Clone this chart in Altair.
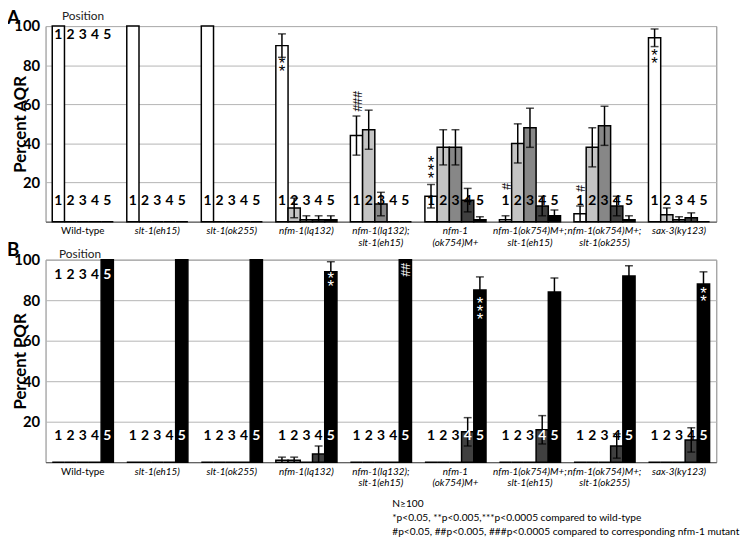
import altair as alt
import pandas as pd

FONT = "Lato"

groups = ["Wild-type", "slt-1(eh15)", "slt-1(ok255)", "nfm-1(lq132)",
          "nfm-1(lq132);|slt-1(eh15)", "nfm-1|(ok754)M+",
          "nfm-1(ok754)M+;|slt-1(eh15)", "nfm-1(ok754)M+;|slt-1(ok255)",
          "sax-3(ky123)"]
positions = [1, 2, 3, 4, 5]
pos_colors = ["#ffffff", "#c4c4c4", "#878787", "#404040", "#000000"]

aqr_mean = [[100, 0, 0, 0, 0], [100, 0, 0, 0, 0], [100, 0, 0, 0, 0],
            [90, 7, 1, 1, 1], [44, 47, 9, 0, 0], [13, 38, 38, 11, 1],
            [1, 40, 48, 8, 3], [4, 38, 49, 8, 1], [94, 3.5, 1, 2, 0]]
aqr_err = [[0, 0, 0, 0, 0], [0, 0, 0, 0, 0], [0, 0, 0, 0, 0],
           [6, 5, 2, 2, 2], [10, 10, 6, 0, 0], [6, 9, 9, 6, 1.5],
           [2, 10, 10, 5, 3], [4, 10, 10, 5, 2], [4.5, 3.5, 1.5, 2.5, 0]]

pqr_mean = [[0, 0, 0, 0, 100], [0, 0, 0, 0, 100], [0, 0, 0, 0, 100],
            [1, 1, 0, 4, 94], [0, 0, 0, 0, 100], [0, 0, 0, 15, 85],
            [0, 0, 0, 16, 84], [0, 0, 0, 8, 92], [0, 0, 0, 11, 88]]
pqr_err = [[0, 0, 0, 0, 0], [0, 0, 0, 0, 0], [0, 0, 0, 0, 0],
           [1.5, 1.5, 0, 4, 5], [0, 0, 0, 0, 0], [0, 0, 0, 7, 6.5],
           [0, 0, 0, 7, 7], [0, 0, 0, 6, 5], [0, 0, 0, 6, 6]]

# significance marks: (group index, position, y value, text)
aqr_sig = [(3, 1, 80.5, "*|*"), (4, 1, 61.5, "###"), (5, 1, 30, "*|*|*"),
           (6, 1, 18, "#"), (7, 1, 17, "#"), (8, 1, 84.5, "*|*")]
pqr_sig = [(3, 5, 90.5, "*|*"), (4, 5, 95, "##"), (5, 5, 78, "*|*|*"),
           (8, 5, 83, "*|*")]

# position label rows: (y value, groups that get the row)
aqr_label_rows = [(95.5, [0]), (10.5, list(range(9)))]
pqr_label_rows = [(92.5, [0]), (13, list(range(9)))]

footer_lines = ["N\u2265100",
                "*p<0.05, **p<0.005,***p<0.0005  compared to wild-type",
                "#p<0.05, ##p<0.005, ###p<0.0005 compared to corresponding nfm-1 mutant"]


def bar_frame(means, errs):
    rows = []
    for gi, g in enumerate(groups):
        for pi, p in enumerate(positions):
            v = means[gi][pi]
            e = errs[gi][pi]
            rows.append({"group": g, "pos": p, "value": v, "err": e,
                         "lo": max(0, v - e), "hi": v + e})
    return pd.DataFrame(rows)


def label_frame(rows_spec, means, white_rule):
    rows = []
    for yv, gis in rows_spec:
        for gi in gis:
            for pi, p in enumerate(positions):
                white = white_rule(p, means[gi][pi], yv)
                rows.append({"group": groups[gi], "pos": p, "y": yv,
                             "txt": str(p), "col": "white" if white else "black"})
    return pd.DataFrame(rows)


def sig_frame(spec, char):
    rows = [{"group": groups[g], "pos": p, "y": y, "txt": t}
            for g, p, y, t in spec if t[0] == char]
    return pd.DataFrame(rows)


W = 679


def panel(means, errs, label_spec, white_rule, sig, sig_color, ytitle,
          letter, h, pos_xy, letter_y, footer=False):
    bars = bar_frame(means, errs)
    x = alt.X("group:N", sort=groups,
              scale=alt.Scale(paddingInner=0.18, paddingOuter=0.09),
              axis=alt.Axis(title=None, labelAngle=0, labelFont=FONT,
                            labelFontSize=10, labelColor="black",
                            labelExpr="split(datum.label, '|')",
                            labelFontStyle={"condition": {"test": "datum.label == 'Wild-type'",
                                                          "value": "normal"},
                                            "value": "italic"},
                            labelPadding=4, ticks=False, domainColor="#555",
                            labelLineHeight=12))
    xo = alt.XOffset("pos:O", sort=positions,
                     scale=alt.Scale(paddingInner=0, paddingOuter=0))
    yscale = alt.Scale(domain=[0, 100], nice=False)
    y = alt.Y("value:Q", scale=yscale,
              axis=alt.Axis(values=[20, 40, 60, 80, 100], title=ytitle,
                            grid=True, gridColor="#b4b4b4", domain=False,
                            ticks=False, labelFont=FONT, labelFontSize=15,
                            labelFontWeight="bold", labelColor="black",
                            labelPadding=6, titleFont=FONT, titleFontSize=17,
                            titleFontWeight="bold", titleColor="black",
                            titleX=-16))
    base = alt.Chart(bars)
    b = base.mark_bar(stroke="black", strokeWidth=1.5).encode(
        x=x, xOffset=xo, y=y,
        color=alt.Color("pos:O", scale=alt.Scale(domain=positions, range=pos_colors),
                        legend=None))
    ebase = base.transform_filter("datum.err > 0")
    rule = ebase.mark_rule(color="black", strokeWidth=1.5).encode(
        x=x, xOffset=xo, y=alt.Y("lo:Q", scale=yscale), y2="hi:Q")
    cap_hi = ebase.mark_tick(color="black", size=8, thickness=1.5).encode(
        x=x, xOffset=xo, y=alt.Y("hi:Q", scale=yscale))
    cap_lo = ebase.transform_filter("datum.lo > 0").mark_tick(
        color="black", size=8, thickness=1.5).encode(
        x=x, xOffset=xo, y=alt.Y("lo:Q", scale=yscale))
    labs = alt.Chart(label_frame(label_spec, means, white_rule)).mark_text(
        font=FONT, fontSize=14, fontWeight="bold", baseline="middle").encode(
        x=x, xOffset=xo, y=alt.Y("y:Q", scale=yscale),
        text="txt:N", color=alt.Color("col:N", scale=None))
    layers = [b, rule, cap_hi, cap_lo, labs]
    stars = sig_frame(sig, "*")
    if len(stars):
        layers.append(alt.Chart(stars).mark_text(
            font="Liberation Sans", fontSize=17, baseline="middle", lineBreak="|",
            lineHeight=8, align="center", color=sig_color).encode(
            x=x, xOffset=xo, y=alt.Y("y:Q", scale=yscale), text="txt:N"))
    hashes = sig_frame(sig, "#")
    if len(hashes):
        layers.append(alt.Chart(hashes).mark_text(
            font="Liberation Sans", fontSize=12.5, baseline="middle",
            align="center", color=sig_color, angle=90).encode(
            x=x, xOffset=xo, y=alt.Y("y:Q", scale=yscale), text="txt:N"))
    pos_txt = alt.Chart(pd.DataFrame({"t": ["Position"]})).mark_text(
        font=FONT, fontSize=12, color="#222", baseline="middle").encode(
        x=alt.value(pos_xy[0]), y=alt.value(pos_xy[1]), text="t:N")
    let_txt = alt.Chart(pd.DataFrame({"t": [letter]})).mark_text(
        font=FONT, fontSize=19, fontWeight="bold", color="black",
        baseline="top", align="left").encode(
        x=alt.value(-39), y=alt.value(letter_y), text="t:N")
    layers += [pos_txt, let_txt]
    if footer:
        fdf = pd.DataFrame({"t": footer_lines, "dy": [247, 261.5, 276]})
        layers.append(alt.Chart(fdf).mark_text(
            font=FONT, fontSize=10.3, color="black", align="left",
            baseline="middle").encode(
            x=alt.value(351), y=alt.Y("dy:Q", scale=None), text="t:N"))
    return alt.layer(*layers).properties(width=W, height=h)


A = panel(aqr_mean, aqr_err, aqr_label_rows, lambda p, v, yv: False,
          aqr_sig, "black", "Percent AQR", "A", 198, (38, -10), -17)
B = panel(pqr_mean, pqr_err, pqr_label_rows,
          lambda p, v, yv: p == 5 or (p == 4 and v >= yv + 1),
          pqr_sig, "white", "Percent PQR", "B", 205, (35, -6), -19,
          footer=True)

chart = alt.vconcat(A, B, spacing=38.5, bounds="flush").properties(
    padding={"left": -2, "top": -3, "right": 0, "bottom": 0}
).configure_view(stroke="#808080", strokeWidth=1)

chart.save("out.html", embed_options={"renderer": "svg", "actions": False})
